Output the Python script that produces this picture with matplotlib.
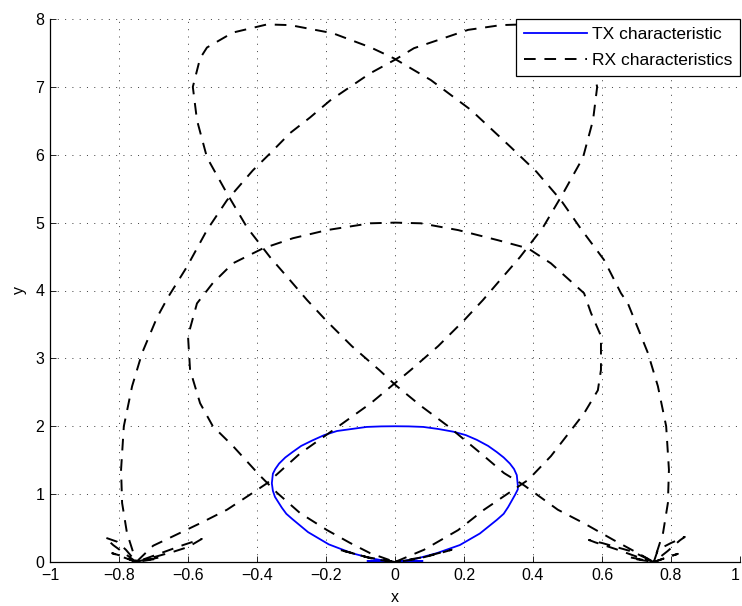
import matplotlib
matplotlib.use('Agg')
import matplotlib.pyplot as plt

plt.rcParams['font.family'] = ['Liberation Sans', 'DejaVu Sans']

# TX pattern (blue), starting at origin
tx_x = [0.0, 0.014, 0.063, 0.121, 0.188, 0.246, 0.295, 0.315, 0.328, 0.348, 0.356, 0.356,
        0.353, 0.345, 0.333, 0.315, 0.295, 0.270, 0.237, 0.205, 0.169, 0.125, 0.082,
        0.040, 0.0,
        -0.040, -0.082, -0.125, -0.168, -0.205, -0.240, -0.272, -0.297, -0.318, -0.336,
        -0.347, -0.354, -0.357, -0.354, -0.348, -0.328, -0.315,
        -0.297, -0.252, -0.192, -0.125, -0.065, -0.014, 0.0,
        -0.08, -0.03, 0.0, 0.08, 0.03, 0.0]
tx_y = [0.0, 0.005, 0.05, 0.13, 0.25, 0.42, 0.62, 0.71, 0.81, 0.99, 1.07, 1.13,
        1.28, 1.37, 1.45, 1.54, 1.62, 1.71, 1.80, 1.87, 1.92, 1.96, 1.99,
        1.998, 2.0,
        1.998, 1.99, 1.96, 1.93, 1.87, 1.79, 1.71, 1.62, 1.54, 1.45,
        1.37, 1.30, 1.16, 1.05, 0.96, 0.80, 0.71,
        0.63, 0.44, 0.26, 0.13, 0.05, 0.005, 0.0,
        0.015, 0.01, 0.0, 0.015, 0.01, 0.0]

# RX pattern centred at x = 0
rx_c_x = [0.0, -0.08, -0.165, -0.13, -0.06, 0.0,
          -0.072, -0.13, -0.197, -0.275, -0.342, -0.391, -0.47, -0.528, -0.565,
          -0.594, -0.600, -0.574, -0.528, -0.47, -0.383, -0.296, -0.197, -0.072,
          0.0, 0.075, 0.183, 0.299, 0.386, 0.452, 0.548, 0.568, 0.597, 0.597,
          0.588, 0.548, 0.51, 0.452, 0.386, 0.316, 0.258, 0.183, 0.084, 0.0,
          0.06, 0.13, 0.164, 0.08, 0.0]
rx_c_y = [0.0, 0.07, 0.185, 0.14, 0.04, 0.0,
          0.13, 0.28, 0.47, 0.72, 1.02, 1.27, 1.71, 2.0, 2.34,
          2.83, 3.33, 3.81, 4.11, 4.40, 4.62, 4.77, 4.89, 4.99,
          5.0, 4.99, 4.89, 4.74, 4.62, 4.40, 3.96, 3.67, 3.33, 2.83,
          2.53, 2.19, 1.94, 1.56, 1.21, 0.97, 0.77, 0.47, 0.18, 0.0,
          0.04, 0.13, 0.18, 0.07, 0.0]

# RX pattern centred at x = -0.75 (beam towards upper right)
rx_l_x = [-0.75, -0.817, -0.84, -0.806, -0.78, -0.75,
          -0.82, -0.80, -0.75,
          -0.777, -0.791, -0.794, -0.786, -0.762, -0.733, -0.69, -0.658,
          -0.603, -0.545, -0.487, -0.412, -0.362, -0.304, -0.246, -0.188,
          -0.13, -0.072, 0.0, 0.055, 0.125, 0.212, 0.307, 0.371, 0.47,
          0.545, 0.565, 0.586, 0.574, 0.545, 0.487, 0.429, 0.362, 0.304,
          0.255, 0.2, 0.125, 0.046, -0.07, -0.18, -0.275, -0.371, -0.412,
          -0.487, -0.565, -0.643, -0.701, -0.75,
          -0.652, -0.614, -0.56, -0.6, -0.643, -0.75,
          -0.68, -0.70, -0.75]
rx_l_y = [0.0, 0.25, 0.36, 0.30, 0.18, 0.0,
          0.13, 0.10, 0.0,
          0.43, 0.87, 1.36, 2.0, 2.59, 3.08, 3.6, 3.9,
          4.35, 4.89, 5.33, 5.77, 6.02, 6.32, 6.55, 6.8,
          7.0, 7.2, 7.4, 7.57, 7.69, 7.84, 7.91, 7.92, 7.8,
          7.58, 7.42, 7.0, 6.51, 5.96, 5.43, 4.93, 4.49, 4.15,
          3.86, 3.56, 3.18, 2.83, 2.34, 1.94, 1.6, 1.16, 1.02,
          0.77, 0.57, 0.38, 0.24, 0.0,
          0.18, 0.25, 0.34, 0.22, 0.15, 0.0,
          0.07, 0.04, 0.0]

# RX pattern centred at x = 0.75 (beam towards upper left)
rx_r_x = [0.75, 0.762, 0.80, 0.84, 0.826, 0.79, 0.75,
          0.82, 0.80, 0.75,
          0.777, 0.791, 0.794, 0.786, 0.762, 0.733, 0.675, 0.655, 0.606,
          0.54, 0.481, 0.41, 0.336, 0.22, 0.104, -0.003, -0.07, -0.18,
          -0.304, -0.371, -0.47, -0.545, -0.565, -0.586, -0.574, -0.545,
          -0.487, -0.429, -0.362, -0.304, -0.255, -0.2, -0.125, -0.046,
          0.003, 0.075, 0.154, 0.249, 0.316, 0.374, 0.472, 0.548, 0.635,
          0.704, 0.75,
          0.69, 0.60, 0.562, 0.58, 0.64, 0.70, 0.75,
          0.68, 0.70, 0.75]
rx_r_y = [0.0, 0.18, 0.28, 0.37, 0.32, 0.16, 0.0,
          0.12, 0.09, 0.0,
          0.43, 0.87, 1.36, 2.0, 2.59, 3.08, 3.81, 3.96, 4.45,
          4.9, 5.33, 5.75, 6.11, 6.66, 7.1, 7.42, 7.58, 7.79,
          7.91, 7.92, 7.8, 7.58, 7.42, 7.0, 6.51, 5.96,
          5.43, 4.93, 4.49, 4.15, 3.86, 3.56, 3.18, 2.83,
          2.6, 2.3, 2.0, 1.6, 1.31, 1.13, 0.77, 0.57, 0.32,
          0.13, 0.0,
          0.15, 0.28, 0.325, 0.29, 0.19, 0.08, 0.0,
          0.07, 0.04, 0.0]

x_ticks = [-1, -0.8, -0.6, -0.4, -0.2, 0, 0.2, 0.4, 0.6, 0.8, 1]
x_labels = ['\u22121', '\u22120.8', '\u22120.6', '\u22120.4', '\u22120.2',
            '0', '0.2', '0.4', '0.6', '0.8', '1']
y_ticks = [0, 1, 2, 3, 4, 5, 6, 7, 8]

fig = plt.figure(figsize=(7.42, 6.06), dpi=100)
ax = fig.add_axes([50 / 742, 44 / 606, 690 / 742, 543 / 606])

ax.plot(tx_x, tx_y, color='#0000ff', lw=1.3, label='TX characteristic')
dash = dict(color='k', lw=1.4, linestyle=(0, (6, 4.5)))
ax.plot(rx_c_x, rx_c_y, label='RX characteristics', **dash)
ax.plot(rx_l_x, rx_l_y, **dash)
ax.plot(rx_r_x, rx_r_y, **dash)

ax.set_xlim(-1, 1)
ax.set_ylim(0, 8)
ax.set_xticks(x_ticks)
ax.set_xticklabels(x_labels)
ax.get_xticklabels()[-1].set_horizontalalignment('right')
ax.set_yticks(y_ticks)
ax.tick_params(direction='in', length=4, width=0.6, labelsize=11.5, pad=4)
ax.grid(True, color='k', lw=0.5, linestyle=(0, (1.5, 9)))
ax.spines['top'].set_visible(False)
ax.spines['right'].set_visible(False)
for s in ('left', 'bottom'):
    ax.spines[s].set_linewidth(0.9)
ax.set_xlabel('x', fontsize=11.5, labelpad=5)
ax.set_ylabel('y', fontsize=11.5, labelpad=6)

leg = ax.legend(loc='upper right', bbox_to_anchor=(1.0, 1.0), borderaxespad=0,
                fontsize=12.5, fancybox=False, framealpha=1, edgecolor='k',
                handlelength=3.6, handletextpad=0.3, labelspacing=0.62,
                borderpad=0.45)
leg.get_frame().set_linewidth(0.9)

fig.savefig('out.png', dpi=100)
